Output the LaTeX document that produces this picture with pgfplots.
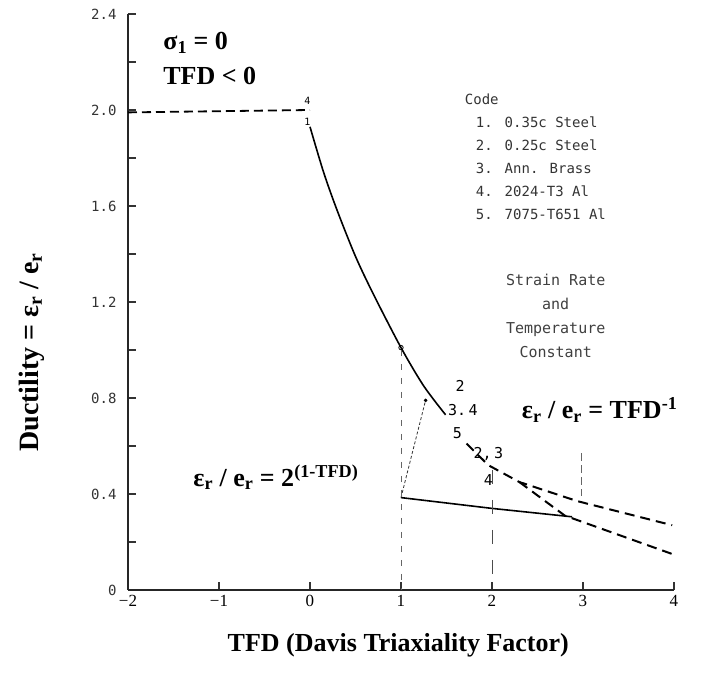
\documentclass[border=0pt]{standalone}
\usepackage{fontspec}
\setmainfont{Liberation Serif}
\newfontfamily\mono{DejaVu Sans Mono}
\usepackage{pgfplots}
\pgfplotsset{compat=1.18}

\begin{document}
\begin{tikzpicture}
\useasboundingbox (-128pt,-85pt) rectangle (596pt,590pt);
\begin{axis}[
at={(0pt,0pt)},anchor=south west,
scale only axis,width=546pt,height=576pt,
xmin=-2,xmax=4,ymin=0,ymax=2.4,
axis x line=bottom,axis y line=left,
axis line style={-,line width=1.4pt,black!85},
xtick={-2,-1,0,1,2,3,4},xticklabels={−2,−1,0,1,2,3,4},
ytick={0,0.4,0.8,1.2,1.6,2.0,2.4},yticklabels={0,0.4,0.8,1.2,1.6,2.0,2.4},
minor ytick={0.2,0.6,1.0,1.4,1.8,2.2},
tick align=inside,major tick length=8pt,minor tick length=8pt,
tick style={line width=1.2pt,black!80},
xticklabel style={font=\fontsize{17}{17}\selectfont,yshift=-2pt},
yticklabel style={font=\mono\fontsize{14}{14}\selectfont,xshift=-8pt,text=black!80},
clip=false
]
% TFD < 0 plateau
\addplot[black,line width=1.8pt,dash pattern=on 9pt off 5pt] coordinates {(-2,1.99)(0,2.0)};
% 2^(1-TFD) measured curve
\addplot[black,line width=1.6pt,smooth] coordinates {(0,1.93)(0.15,1.74)(0.3,1.58)(0.5,1.39)(0.7,1.23)(1.0,1.01)(1.25,0.85)(1.49,0.73)};
\addplot[black,line width=2pt,dash pattern=on 10pt off 6pt] coordinates {(1.72,0.61)(1.96,0.52)(2.3,0.45)(2.94,0.37)(3.98,0.27)};
\addplot[black,line width=2pt,dash pattern=on 10pt off 6pt] coordinates {(2.3,0.45)(2.8,0.31)(3.98,0.15)};
% lower solid branch
\addplot[black,line width=1.6pt] coordinates {(1.0,0.385)(2.0,0.34)(2.88,0.305)};
\addplot[black!80,line width=0.8pt,densely dashed] coordinates {(1.0,0.385)(1.27,0.79)};
\addplot[only marks,mark=*,mark size=1.6pt,black] coordinates {(1.27,0.79)};
\addplot[only marks,mark=o,mark size=2.2pt,black,thick] coordinates {(1.0,1.01)};
% guide lines
\addplot[black!60,line width=0.8pt,dash pattern=on 6pt off 8pt] coordinates {(1,1.0)(1,0)};
\addplot[black!70,line width=0.9pt,dash pattern=on 14pt off 16pt] coordinates {(2,0.5)(2,0)};
\addplot[black!60,line width=0.8pt,dash pattern=on 8pt off 4pt] coordinates {(2.98,0.57)(2.98,0.39)};

% point codes
\node[font=\mono\fontsize{10}{10}\selectfont] at (axis cs:-0.03,2.04) {4};
\node[font=\mono\fontsize{10}{10}\selectfont] at (axis cs:-0.03,1.95) {1};
\node[font=\mono\fontsize{15}{15}\selectfont] at (axis cs:1.65,0.85) {2};
\node[font=\mono\fontsize{15}{15}\selectfont] at (axis cs:1.68,0.75) {3.\,4};
\node[font=\mono\fontsize{15}{15}\selectfont] at (axis cs:1.62,0.655) {5};
\node[font=\mono\fontsize{15}{15}\selectfont] at (axis cs:1.96,0.565) {2,\,3};
\node[font=\mono\fontsize{15}{15}\selectfont] at (axis cs:1.96,0.46) {4};

% legend of materials
\node[anchor=north west,inner sep=0pt,font=\mono\fontsize{14}{23}\selectfont,text=black!80] at (axis cs:1.70,2.09) {%
\begin{tabular}{@{\hspace{11pt}}l@{\hspace{12pt}}l@{}}
\multicolumn{2}{@{}l}{Code}\\
1. & 0.35c Steel\\
2. & 0.25c Steel\\
3. & Ann. Brass\\
4. & 2024-T3 Al\\
5. & 7075-T651 Al
\end{tabular}};
\node[align=center,font=\mono\fontsize{15}{24}\selectfont,text=black!75] at (axis cs:2.70,1.14) {Strain Rate\\and\\Temperature\\Constant};

% bold annotations
\node[anchor=west,font=\bfseries\fontsize{26}{26}\selectfont] at (axis cs:-1.65,2.28) {σ\textsubscript{1} = 0};
\node[anchor=west,font=\bfseries\fontsize{26}{26}\selectfont] at (axis cs:-1.65,2.14) {TFD < 0};
\node[anchor=west,font=\bfseries\fontsize{26}{26}\selectfont] at (axis cs:2.29,0.75) {ε\textsubscript{r} / e\textsubscript{r} = TFD\textsuperscript{-1}};
\node[anchor=west,font=\bfseries\fontsize{26}{26}\selectfont] at (axis cs:-1.32,0.47) {ε\textsubscript{r} / e\textsubscript{r} = 2\textsuperscript{(1-TFD)}};
\node[rotate=90,font=\bfseries\fontsize{28}{28}\selectfont] at (axis cs:-3.06,0.99) {Ductility = ε\textsubscript{r} / e\textsubscript{r}};
\node[font=\bfseries\fontsize{26}{26}\selectfont] at (axis cs:0.97,-0.23) {TFD (Davis Triaxiality Factor)};
\end{axis}
\end{tikzpicture}
\end{document}
